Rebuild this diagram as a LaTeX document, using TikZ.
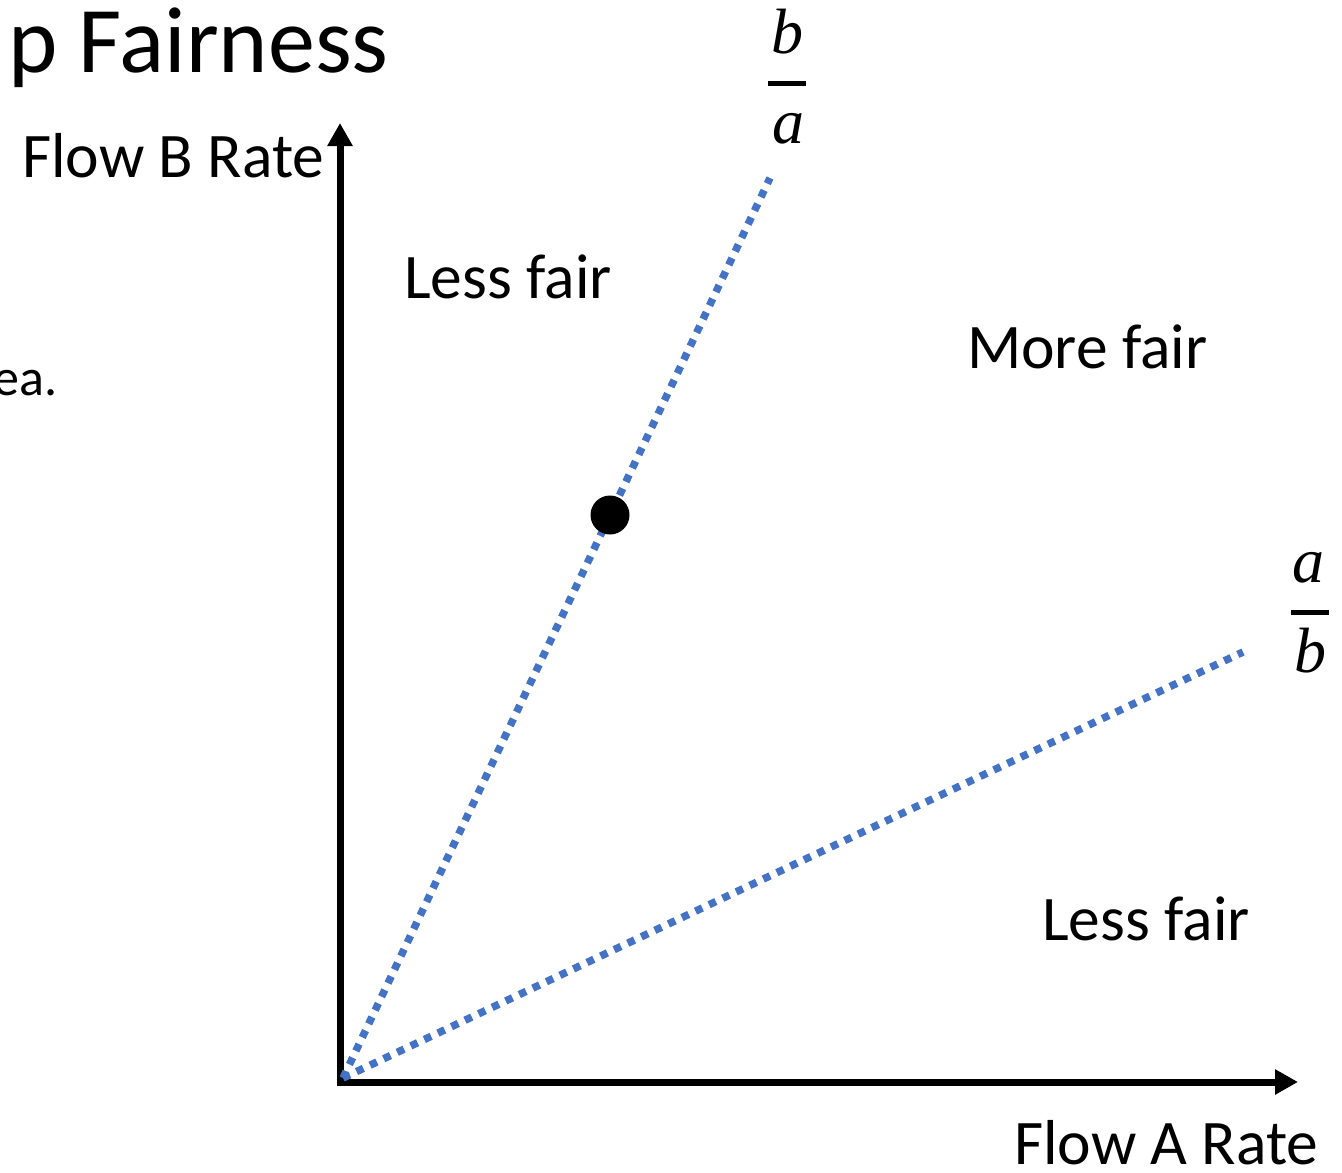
\documentclass[tikz,border=0pt]{standalone}
\usepackage{fontspec}
\setmainfont{Carlito}
\newfontfamily\fracfont{Liberation Serif}
\usetikzlibrary{arrows.meta}
\definecolor{blueline}{HTML}{4472C4}
\tikzset{
  axisline/.style={line width=7pt, -{Triangle[length=23pt,width=24pt]}},
  ratioline/.style={draw=blueline, line width=7.5pt, dash pattern=on 7.5pt off 7.5pt},
  lbl/.style={font=\fontsize{63.5}{74}\selectfont, inner sep=0pt, anchor=base west},
  fracl/.style={font=\fracfont\itshape\fontsize{64}{76}\selectfont, inner sep=0pt, anchor=base},
  fracbar/.style={line width=5pt}
}
\begin{document}
\begin{tikzpicture}[x=1pt,y=-1pt]
\useasboundingbox (0,0) rectangle (1342,1173);
% coordinates
\coordinate (Ov) at (340,1085.5);
\coordinate (Oh) at (336.5,1082);
\coordinate (Ytip) at (340,123);
\coordinate (Xtip) at (1298,1082);
\coordinate (O) at (343,1078);
\coordinate (Ubend) at (770,178);
\coordinate (Lend) at (1243,652);
% title and side text
\node[font=\fontsize{94}{100}\selectfont, inner sep=0pt, anchor=base west] (title) at (8,72) {p Fairness};
\node[font=\fontsize{52}{60}\selectfont, inner sep=0pt, anchor=base east] (side) at (58,395) {ea.};
% axes
\draw[axisline] (Ov) -- (Ytip);
\draw[axisline] (Oh) -- (Xtip);
% ratio lines
\draw[ratioline] (O) -- (Ubend);
\draw[ratioline] (O) -- (Lend);
% point
\node[circle, fill=black, minimum size=39pt, inner sep=0pt] (pt) at (610,515) {};
% labels
\node[lbl] (yl) at (22,177) {Flow B Rate};
\node[lbl] (xl) at (1014,1164) {Flow A Rate};
\node[lbl] (lf1) at (404,298) {Less fair};
\node[lbl] (mf) at (967,368) {More fair};
\node[lbl] (lf2) at (1042,940) {Less fair};
% fraction b/a
\node[fracl] (ba1) at (787,53) {b};
\coordinate (bar1l) at (768,83);
\coordinate (bar1r) at (806,83);
\draw[fracbar] (bar1l) -- (bar1r);
\node[fracl] (ba2) at (788,143) {a};
% fraction a/b
\node[fracl] (ab1) at (1308,582) {a};
\coordinate (bar2l) at (1291,612);
\coordinate (bar2r) at (1329,612);
\draw[fracbar] (bar2l) -- (bar2r);
\node[fracl] (ab2) at (1310,672) {b};
\end{tikzpicture}
\end{document}
